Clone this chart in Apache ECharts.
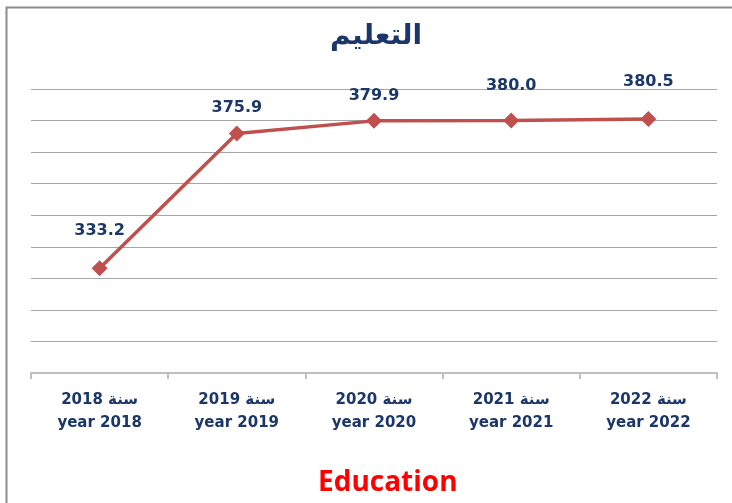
<!DOCTYPE html>
<html>
<head>
<meta charset="utf-8">
<title>Education</title>
<script src="https://cdn.jsdelivr.net/npm/echarts@6/dist/echarts.min.js"></script>
<style>
  html, body { margin: 0; padding: 0; background: #fff; }
  #chart { width: 732px; height: 503px; }
</style>
</head>
<body>
<div id="chart"></div>
<script>
// data
const yearsArabic = ['سنة 2018', 'سنة 2019', 'سنة 2020', 'سنة 2021', 'سنة 2022']
const yearsEnglish = ['year 2018', 'year 2019', 'year 2020', 'year 2021', 'year 2022']
const educationValues = [333.2, 375.9, 379.9, 380.0, 380.5]

// labels sit at slightly different heights above each marker
const labelLift = [16, 5, 4, 14, 16]

const navy = '#1b3668'
const lineRed = '#c0504d'

const chart = echarts.init(document.getElementById('chart'), null, { renderer: 'canvas' })

chart.setOption({
  backgroundColor: '#fff',
  animation: false,
  graphic: [
    {
      type: 'rect',
      shape: { x: 6.5, y: 7.5, width: 800, height: 600 },
      style: { fill: 'none', stroke: '#8c8c8c', lineWidth: 2 },
      silent: true
    }
  ],
  title: [
    {
      text: 'التعليم',
      left: 325,
      top: 18,
      textStyle: { color: navy, fontSize: 28, fontWeight: 'bold', fontFamily: 'DejaVu Sans' }
    },
    {
      text: 'Education',
      left: 313,
      top: 464,
      textStyle: { color: '#ff0000', fontSize: 28, fontWeight: 'bold', fontFamily: 'Open Sans' }
    }
  ],
  grid: { left: 31, right: 15, top: 89, bottom: 130 },
  xAxis: {
    type: 'category',
    data: yearsArabic.map((a, i) => a + '\n' + yearsEnglish[i]),
    boundaryGap: true,
    axisLine: { lineStyle: { color: '#bfbfbf', width: 2 } },
    axisTick: { show: true, length: 6, lineStyle: { color: '#bfbfbf', width: 2 } },
    axisLabel: {
      color: navy,
      fontSize: 15,
      fontWeight: 'bold',
      fontFamily: 'DejaVu Sans',
      lineHeight: 23,
      margin: 16,
      interval: 0
    }
  },
  yAxis: {
    type: 'value',
    min: 300,
    max: 390,
    interval: 10,
    axisLine: { show: false },
    axisTick: { show: false },
    axisLabel: { show: false },
    splitLine: { lineStyle: { color: '#a6a6a6', width: 1 } }
  },
  series: [
    {
      type: 'line',
      data: educationValues.map((v, i) => ({
        value: v,
        label: { offset: [0, -labelLift[i]] }
      })),
      symbol: 'diamond',
      symbolSize: 16,
      lineStyle: { color: lineRed, width: 3.5 },
      itemStyle: { color: lineRed },
      label: {
        show: true,
        position: 'top',
        formatter: (p) => p.value.toFixed(1),
        color: navy,
        fontSize: 16,
        fontWeight: 'bold',
        fontFamily: 'DejaVu Sans'
      }
    }
  ]
})
</script>
</body>
</html>
